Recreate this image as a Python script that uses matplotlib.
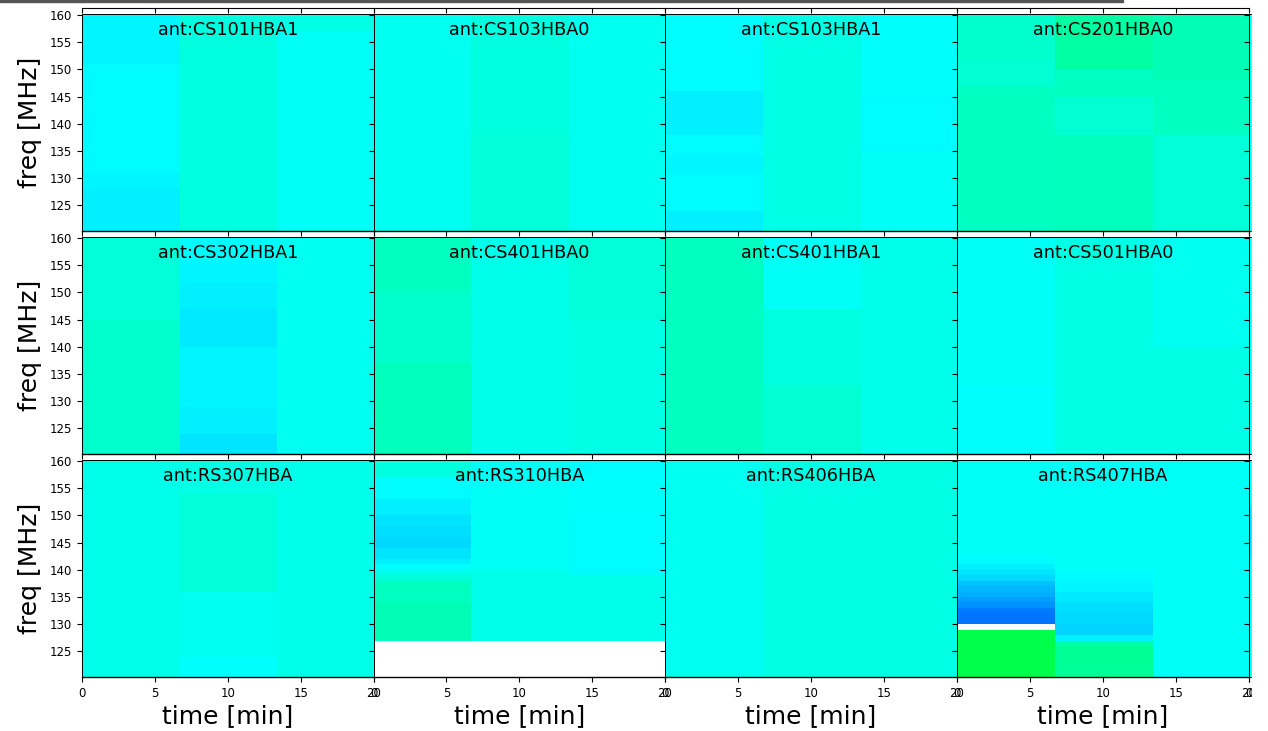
import numpy as np
import matplotlib
matplotlib.use('Agg')
import matplotlib.pyplot as plt
from matplotlib.patches import Rectangle

W, H = 1268, 731

names = ['CS101HBA1', 'CS103HBA0', 'CS103HBA1', 'CS201HBA0',
         'CS302HBA1', 'CS401HBA0', 'CS401HBA1', 'CS501HBA0',
         'RS307HBA', 'RS310HBA', 'RS406HBA', 'RS407HBA']
times = [0, 6.7, 13.4, 20]

# one entry per antenna and time slot: (top frequency of band, phase in rad), bottom to top
CS101HBA1 = [[(128, .12), (131, .08), (151, .05), (161, .09)],
             [(161, -.08)],
             [(157, .01), (161, -.07)]]
CS103HBA0 = [[(161, -.01)],
             [(138, -.12), (161, -.08)],
             [(161, -.01)]]
CS103HBA1 = [[(124, .10), (127, .07), (131, .05), (134, .09), (138, .05), (141, .10),
              (146, .11), (151, .07), (161, .06)],
             [(161, -.07)],
             [(135, .01), (145, .06), (161, .03)]]
CS201HBA0 = [[(147, -.22), (152, -.13), (161, -.16)],
             [(138, -.24), (145, -.13), (150, -.21), (161, -.32)],
             [(138, -.12), (148, -.20), (161, -.25)]]
CS302HBA1 = [[(145, -.16), (161, -.11)],
             [(124, .17), (129, .12), (140, .09), (147, .14), (152, .12), (156, .08), (161, .05)],
             [(161, -.01)]]
CS401HBA0 = [[(137, -.23), (150, -.16), (161, -.20)],
             [(161, -.03)],
             [(145, -.06), (161, -.12)]]
CS401HBA1 = [[(161, -.20)],
             [(133, -.13), (147, -.09), (161, 0.)],
             [(161, -.03)]]
CS501HBA0 = [[(133, .04), (161, .01)],
             [(161, -.05)],
             [(140, -.05), (161, -.01)]]
RS307HBA = [[(161, -.04)],
            [(124, .04), (136, -.01), (154, -.12), (161, -.06)],
            [(161, -.03)]]
RS310HBA = [[(127, np.nan), (134, -.26), (138, -.20), (139, -.12), (140, -.03), (141, .03),
             (142, .12), (144, .17), (146, .21), (148, .19), (150, .16), (153, .11),
             (157, .07), (161, -.09)],
            [(127, np.nan), (140, -.03), (161, .01)],
            [(127, np.nan), (139, -.04), (147, .06), (150, .05), (157, .03), (161, .05)]]
RS406HBA = [[(161, -.01)],
            [(161, -.05)],
            [(161, -.06)]]
RS407HBA = [[(129, -.71), (130, np.nan), (132, .62), (133, .60), (134, .50), (135, .45),
             (136, .38), (137, .35), (138, .30), (139, .22), (140, .17), (141, .12),
             (142, .07), (143, .04), (161, .01)],
            [(126, -.38), (127, -.27), (128, .10), (130, .24), (132, .22), (134, .18),
             (136, .13), (138, .09), (140, .05), (161, 0.)],
            [(161, 0.)]]
panels = [CS101HBA1, CS103HBA0, CS103HBA1, CS201HBA0,
          CS302HBA1, CS401HBA0, CS401HBA1, CS501HBA0,
          RS307HBA, RS310HBA, RS406HBA, RS407HBA]

# colours of the clipped antenna column on the right edge
edge_bands = [[(161, 0.)], [(161, .01)], [(142, -.02), (152, .22), (161, .02)]]

fig = plt.figure(figsize=(W / 100, H / 100), dpi=100)

def add_axes(x0, x1, y0, y1):
    return fig.add_axes([x0 / W, 1 - y1 / H, (x1 - x0) / W, (y1 - y0) / H])

col_x = [82, 373.5, 665, 957, 1249]
row_y = [(14, 231), (237, 454), (460, 677)]

def draw_panel(ax, slots, t):
    edges = sorted({120.3, 160.2} | {min(top, 160.2) for slot in slots for top, _ in slot})
    vals = np.zeros((len(edges) - 1, len(slots)))
    for j, slot in enumerate(slots):
        for i, top in enumerate(edges[1:]):
            vals[i, j] = next(v for b, v in slot if b >= top)
    ax.pcolormesh(t, edges, np.ma.masked_invalid(vals), cmap='hsv', vmin=-np.pi, vmax=np.pi)

for k, (name, slots) in enumerate(zip(names, panels)):
    r, c = divmod(k, 4)
    ax = add_axes(col_x[c], col_x[c + 1], row_y[r][0], row_y[r][1])
    draw_panel(ax, slots, times)
    ax.set_xlim(0, 20)
    ax.set_ylim(120.3, 160.2)
    ax.set_xticks([0, 5, 10, 15, 20])
    ax.set_yticks([125, 130, 135, 140, 145, 150, 155, 160])
    ax.tick_params(labelsize=8.5, labelbottom=r == 2, labelleft=c == 0)
    ax.text(0.5, 0.925, 'ant:' + name, transform=ax.transAxes, ha='center', va='center', fontsize=12.7)
    for s in ax.spines.values():
        s.set_linewidth(0.7)
    ax.spines['bottom'].set_linewidth(1.0)
    if c == 0:
        ax.set_ylabel('freq [MHz]', fontsize=18, labelpad=6)
    if r == 2:
        ax.set_xlabel('time [min]', fontsize=18, labelpad=3)

# bottom edge of the row cut off above the picture
for c in range(4):
    ax = add_axes(col_x[c], col_x[c + 1], 0, 8)
    ax.set_xlim(0, 20)
    ax.set_xticks([0, 5, 10, 15, 20])
    ax.set_yticks([])
    ax.tick_params(labelbottom=False, length=3.5)
    ax.patch.set_alpha(0)
    for side in ['top', 'left', 'right']:
        ax.spines[side].set_visible(False)

# column cut off on the right
for r in range(3):
    ax = add_axes(1249, 1270, row_y[r][0], row_y[r][1])
    draw_panel(ax, [edge_bands[r]], [0, 20])
    ax.set_xlim(0, 20)
    ax.set_ylim(120.3, 160.2)
    ax.set_xticks([0])
    ax.set_yticks([125, 130, 135, 140, 145, 150, 155, 160])
    ax.tick_params(labelsize=8.5, labelbottom=r == 2, labelleft=False)
    for s in ax.spines.values():
        s.set_linewidth(0.7)

# crop leftovers of the screenshot
fig.add_artist(Rectangle((1252 / W, 0), 16 / W, 1, transform=fig.transFigure, color='white', zorder=10))
fig.add_artist(Rectangle((0, 1 - 2 / H), 1123 / W, 2 / H, transform=fig.transFigure, color='#555555', zorder=10))

fig.savefig('out.png', dpi=100)
